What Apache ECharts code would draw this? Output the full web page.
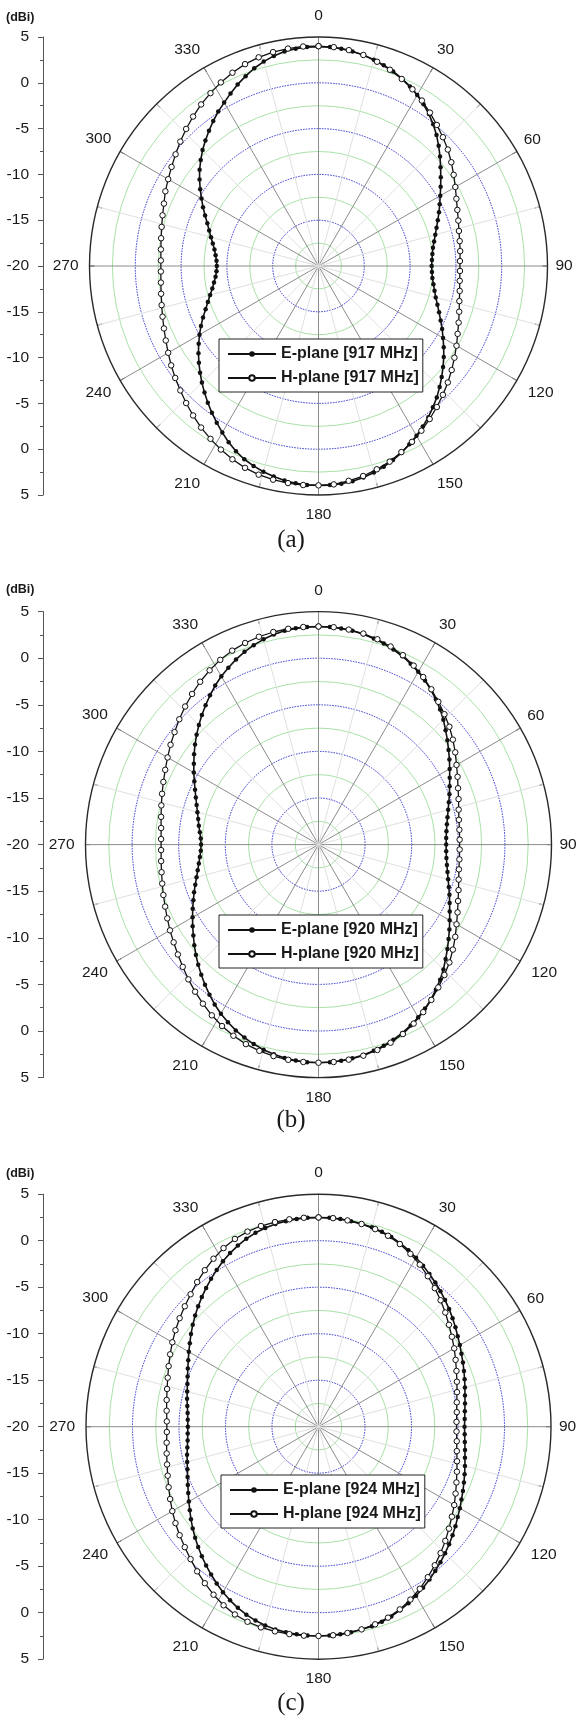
<!DOCTYPE html>
<html>
<head>
<meta charset="utf-8">
<script src="https://cdn.jsdelivr.net/npm/echarts@6/dist/echarts.min.js"></script>
<style>
html,body{margin:0;padding:0;background:#fff;}
#main{width:577px;height:1720px;}
</style>
</head>
<body>
<div id="main"></div>
<script>
// ---------- data ----------
const angleLabels = [0, 30, 60, 90, 120, 150, 180, 210, 240, 270, 300, 330];
const radialTickLabels = [5, 0, -5, -10, -15, -20, -15, -10, -5, 0, 5];
const panelLabels = ['(a)', '(b)', '(c)'];
const frequencies = ['917 MHz', '920 MHz', '924 MHz'];
const eStepDeg = 3;   // E-plane sampling step (deg)
const hStepDeg = 4;   // H-plane sampling step (deg)

// E-plane gain (dBi), 0..357 deg
const eGain917 = [3.95,3.93,3.85,3.72,3.55,3.32,3.05,2.75,2.4,2.0,
 1.55,1.05,0.5,-0.1,-0.75,-1.45,-2.15,-2.85,-3.5,-4.1,
 -4.65,-5.15,-5.6,-6.05,-6.45,-6.8,-7.1,-7.35,-7.5,-7.6,
 -7.65,-7.6,-7.5,-7.3,-7.05,-6.75,-6.35,-5.9,-5.4,-4.85,
 -4.3,-3.7,-3.1,-2.5,-1.9,-1.3,-0.7,-0.15,0.4,0.9,
 1.4,1.85,2.3,2.7,3.05,3.35,3.6,3.78,3.9,3.95,
 3.95,3.93,3.85,3.7,3.5,3.25,2.95,2.6,2.15,1.6,
 1.0,0.4,-0.2,-0.8,-1.4,-2.0,-2.6,-3.2,-3.8,-4.4,
 -5.0,-5.6,-6.2,-6.8,-7.3,-7.75,-8.15,-8.45,-8.7,-8.85,
 -8.9,-8.85,-8.7,-8.5,-8.2,-7.85,-7.45,-7.0,-6.45,-5.85,
 -5.25,-4.6,-3.95,-3.3,-2.7,-2.1,-1.55,-1.0,-0.45,0.1,
 0.6,1.15,1.7,2.2,2.7,3.1,3.45,3.7,3.85,3.93];
// H-plane gain (dBi), 0..356 deg
const hGain917 = [4.0,3.95,3.8,3.55,3.2,2.8,2.35,1.85,1.3,0.7,
 0.1,-0.45,-1.0,-1.6,-2.2,-2.75,-3.25,-3.65,-3.95,-4.2,
 -4.35,-4.45,-4.55,-4.55,-4.5,-4.35,-4.15,-3.85,-3.5,-3.1,
 -2.6,-2.1,-1.55,-1.0,-0.45,0.1,0.65,1.2,1.74,2.24,
 2.73,3.09,3.44,3.68,3.9,3.95,3.97,3.93,3.85,3.7,
 3.45,3.1,2.7,2.25,1.8,1.3,0.8,0.3,-0.15,-0.6,
 -1.05,-1.45,-1.8,-2.1,-2.35,-2.55,-2.7,-2.78,-2.78,-2.7,
 -2.55,-2.35,-2.1,-1.8,-1.4,-1.05,-0.65,-0.2,0.3,0.8,
 1.3,1.8,2.25,2.7,3.1,3.45,3.7,3.87,3.97,4.02];

const eGain920 = [3.4,3.38,3.32,3.22,3.08,2.9,2.68,2.42,2.12,1.78,
 1.4,0.98,0.52,0.02,-0.5,-1.05,-1.65,-2.2,-2.75,-3.25,
 -3.75,-4.2,-4.6,-4.95,-5.3,-5.6,-5.85,-6.05,-6.2,-6.28,
 -6.3,-6.28,-6.2,-6.05,-5.85,-5.6,-5.3,-4.95,-4.6,-4.2,
 -3.75,-3.25,-2.75,-2.2,-1.65,-1.05,-0.5,0.02,0.52,0.98,
 1.4,1.78,2.12,2.42,2.68,2.9,3.08,3.22,3.32,3.38,
 3.4,3.38,3.3,3.18,3.0,2.78,2.5,2.18,1.82,1.4,
 0.95,0.45,-0.1,-0.65,-1.2,-1.75,-2.3,-2.85,-3.4,-3.9,
 -4.4,-4.85,-5.3,-5.7,-6.1,-6.45,-6.75,-7.0,-7.2,-7.35,
 -7.4,-7.35,-7.2,-7.0,-6.8,-6.55,-6.25,-5.9,-5.5,-5.05,
 -4.55,-4.05,-3.5,-2.95,-2.4,-1.85,-1.3,-0.75,-0.2,0.35,
 0.85,1.3,1.75,2.15,2.5,2.8,3.05,3.22,3.33,3.38];
const hGain920 = [3.4,3.38,3.3,3.15,2.92,2.62,2.25,1.75,1.2,0.6,
 0.0,-0.55,-1.1,-1.7,-2.3,-2.9,-3.4,-3.85,-4.2,-4.5,
 -4.7,-4.8,-4.85,-4.85,-4.8,-4.7,-4.5,-4.2,-3.85,-3.4,
 -2.9,-2.3,-1.7,-1.1,-0.55,0.0,0.6,1.2,1.75,2.25,
 2.62,2.92,3.15,3.3,3.38,3.4,3.38,3.32,3.2,3.02,
 2.78,2.45,2.05,1.6,1.1,0.6,0.1,-0.4,-0.85,-1.25,
 -1.6,-1.95,-2.25,-2.5,-2.72,-2.9,-3.02,-3.1,-3.1,-3.02,
 -2.85,-2.62,-2.35,-2.05,-1.7,-1.3,-0.85,-0.4,0.1,0.6,
 1.1,1.6,2.05,2.45,2.78,3.02,3.2,3.32,3.38,3.4];

const eGain924 = [2.5,2.49,2.45,2.38,2.3,2.2,2.05,1.85,1.6,1.3,
 0.98,0.65,0.3,-0.05,-0.4,-0.75,-1.1,-1.45,-1.8,-2.15,
 -2.45,-2.75,-3.0,-3.25,-3.48,-3.7,-3.9,-4.05,-4.18,-4.26,
 -4.3,-4.26,-4.18,-4.05,-3.9,-3.7,-3.48,-3.25,-3.0,-2.75,
 -2.45,-2.15,-1.8,-1.45,-1.1,-0.75,-0.4,-0.05,0.3,0.65,
 0.98,1.3,1.6,1.85,2.05,2.2,2.3,2.38,2.45,2.49,
 2.5,2.49,2.45,2.38,2.28,2.12,1.92,1.65,1.32,0.95,
 0.55,0.1,-0.35,-0.8,-1.25,-1.7,-2.15,-2.6,-3.05,-3.5,
 -3.9,-4.28,-4.62,-4.92,-5.18,-5.38,-5.55,-5.72,-5.85,-5.92,
 -5.95,-5.92,-5.85,-5.72,-5.55,-5.38,-5.18,-4.92,-4.62,-4.28,
 -3.9,-3.5,-3.05,-2.6,-2.15,-1.7,-1.25,-0.8,-0.35,0.1,
 0.55,0.95,1.32,1.65,1.92,2.12,2.28,2.38,2.45,2.49];
const hGain924 = [2.5,2.48,2.4,2.28,2.1,1.85,1.5,1.05,0.55,0.0,
 -0.55,-1.1,-1.65,-2.2,-2.7,-3.15,-3.6,-4.0,-4.35,-4.65,
 -4.9,-5.05,-5.15,-5.15,-5.05,-4.9,-4.65,-4.35,-4.0,-3.6,
 -3.15,-2.7,-2.2,-1.65,-1.1,-0.55,0.0,0.55,1.05,1.5,
 1.85,2.1,2.28,2.4,2.48,2.5,2.52,2.52,2.5,2.45,
 2.32,2.1,1.75,1.3,0.8,0.3,-0.2,-0.65,-1.05,-1.45,
 -1.85,-2.25,-2.62,-2.95,-3.22,-3.42,-3.58,-3.68,-3.68,-3.58,
 -3.42,-3.22,-2.95,-2.62,-2.25,-1.85,-1.45,-1.05,-0.65,-0.2,
 0.3,0.8,1.3,1.75,2.1,2.32,2.45,2.5,2.52,2.52];

const eGains = [eGain917, eGain920, eGain924];
const hGains = [hGain917, hGain920, hGain924];

// ---------- layout / style ----------
const layout = [
  {cx: 318.5, cy: 266,    R: 229,   legendLeft: 219, legendTop: 339,  dbiY: 11,   tagY: 540},
  {cx: 318.5, cy: 844.6,  R: 233,   legendLeft: 219, legendTop: 915,  dbiY: 583,  tagY: 1120},
  {cx: 318.5, cy: 1426.7, R: 232.5, legendLeft: 221, legendTop: 1475, dbiY: 1167, tagY: 1703}
];
const SANS = '"Liberation Sans", Arial, Helvetica, sans-serif';
const SERIF = '"Liberation Serif", "Times New Roman", serif';
const TXT = '#1a1a1a';
const GREEN = '#a8e2a8';
const BLUE = '#2f2fd0';

// per-label nudges [top, right, bottom, left]
const labelPad = {0:[0,0,5,0],30:[0,0,3,0],60:[0,0,0,0],90:[0,0,0,0],120:[0,0,0,4],150:[4,0,0,0],
  180:[4,0,0,0],210:[4,0,0,0],240:[0,2,0,0],270:[0,3,0,0],300:[0,2,1,0],330:[0,0,3,0]};
const rich = {};
angleLabels.forEach(a => {
  rich['a' + a] = {fontSize: 15.5, fontFamily: SANS, color: TXT, padding: labelPad[a]};
});

function closed(vals, step) {
  const d = vals.map((v, k) => [v, k * step]);
  d.push([vals[0], 360]);
  return d;
}

const polar = [], angleAxis = [], radiusAxis = [], series = [], legend = [];
const grid = [], xAxis = [], yAxis = [], graphic = [];

layout.forEach((L, i) => {
  const pMain = 2 * i, pGreen = 2 * i + 1;
  polar.push({center: [L.cx, L.cy], radius: L.R});
  polar.push({center: [L.cx, L.cy], radius: L.R});

  angleAxis.push({
    polarIndex: pMain, type: 'value', min: 0, max: 360, interval: 30,
    startAngle: 90, clockwise: true, z: 2,
    axisLine: {show: true, lineStyle: {color: '#2a2a2a', width: 1.4}},
    axisTick: {show: true, inside: true, length: 5, lineStyle: {color: '#2a2a2a', width: 1}},
    minorTick: {show: true, splitNumber: 2, length: 5, lineStyle: {color: '#2a2a2a', width: 1}},
    splitLine: {show: true, lineStyle: {color: '#8c8c8c', width: 1}},
    minorSplitLine: {show: true, lineStyle: {color: '#e0e0e0', width: 1}},
    axisLabel: {
      show: true, margin: 8,
      formatter: v => (v === 360 ? '' : '{a' + v + '|' + v + '}'),
      rich: rich
    }
  });
  angleAxis.push({
    polarIndex: pGreen, type: 'value', min: 0, max: 360, startAngle: 90, show: false
  });
  radiusAxis.push({
    polarIndex: pMain, type: 'value', min: -20, max: 5, interval: 5, z: 1,
    axisLine: {show: false}, axisTick: {show: false}, axisLabel: {show: false},
    splitLine: {show: true, lineStyle: {color: ['rgba(0,0,0,0)', BLUE, BLUE, BLUE, BLUE, 'rgba(0,0,0,0)'], width: 1, type: [1.5, 1.2]}}
  });
  radiusAxis.push({
    polarIndex: pGreen, type: 'value', min: -20, max: 5, interval: 2.5, z: 0,
    axisLine: {show: false}, axisTick: {show: false}, axisLabel: {show: false},
    splitLine: {show: true, lineStyle: {color: ['rgba(0,0,0,0)', GREEN], width: 1}}
  });

  const eName = 'E-plane [' + frequencies[i] + ']';
  const hName = 'H-plane [' + frequencies[i] + ']';
  series.push({
    type: 'line', name: eName, coordinateSystem: 'polar', polarIndex: pMain,
    data: closed(eGains[i], eStepDeg), symbol: 'circle', symbolSize: 4.5, showSymbol: true,
    lineStyle: {color: '#111', width: 1.6}, itemStyle: {color: '#111'},
    z: 3, animation: false, silent: true
  });
  series.push({
    type: 'line', name: hName, coordinateSystem: 'polar', polarIndex: pMain,
    data: closed(hGains[i], hStepDeg), symbol: 'circle', symbolSize: 5.5, showSymbol: true,
    lineStyle: {color: '#111', width: 1.3}, itemStyle: {color: '#fff', borderColor: '#111', borderWidth: 1},
    z: 4, animation: false, silent: true
  });

  legend.push({
    data: [eName, hName], orient: 'vertical', left: L.legendLeft, top: L.legendTop,
    itemWidth: 48, itemHeight: 7, itemGap: 8, padding: [7, 4, 6, 8],
    backgroundColor: '#fff', borderColor: '#222', borderWidth: 1, borderRadius: 0,
    selectedMode: false, z: 6,
    textStyle: {fontFamily: SANS, fontWeight: 'bold', fontSize: 16, lineHeight: 16, color: TXT}
  });

  grid.push({left: 43, top: L.cy - L.R, width: 20, height: 2 * L.R, show: false, containLabel: false});
  xAxis.push({gridIndex: i, type: 'value', show: false});
  yAxis.push({
    gridIndex: i, type: 'value', min: -25, max: 25, interval: 5, position: 'left',
    axisLine: {show: true, lineStyle: {color: '#555', width: 1}},
    axisTick: {show: true, length: 5, lineStyle: {color: '#555'}},
    minorTick: {show: true, splitNumber: 2, length: 3, lineStyle: {color: '#555'}},
    splitLine: {show: false},
    axisLabel: {
      margin: 14, fontSize: 15.5, fontFamily: SANS, color: TXT,
      formatter: v => String(radialTickLabels[Math.round((25 - v) / 5)])
    }
  });

  graphic.push({
    type: 'text', left: 6, top: L.dbiY, z: 10,
    style: {text: '(dBi)', font: 'bold 12.5px ' + SANS, fill: TXT}
  });
  graphic.push({
    type: 'text', x: 291, y: L.tagY, z: 10,
    style: {text: panelLabels[i], font: '25px ' + SERIF, fill: TXT, align: 'center', verticalAlign: 'middle'}
  });
});

const chart = echarts.init(document.getElementById('main'), null, {renderer: 'canvas'});
chart.setOption({
  backgroundColor: '#fff',
  animation: false,
  polar, angleAxis, radiusAxis, grid, xAxis, yAxis, series, legend, graphic
});
</script>
</body>
</html>
